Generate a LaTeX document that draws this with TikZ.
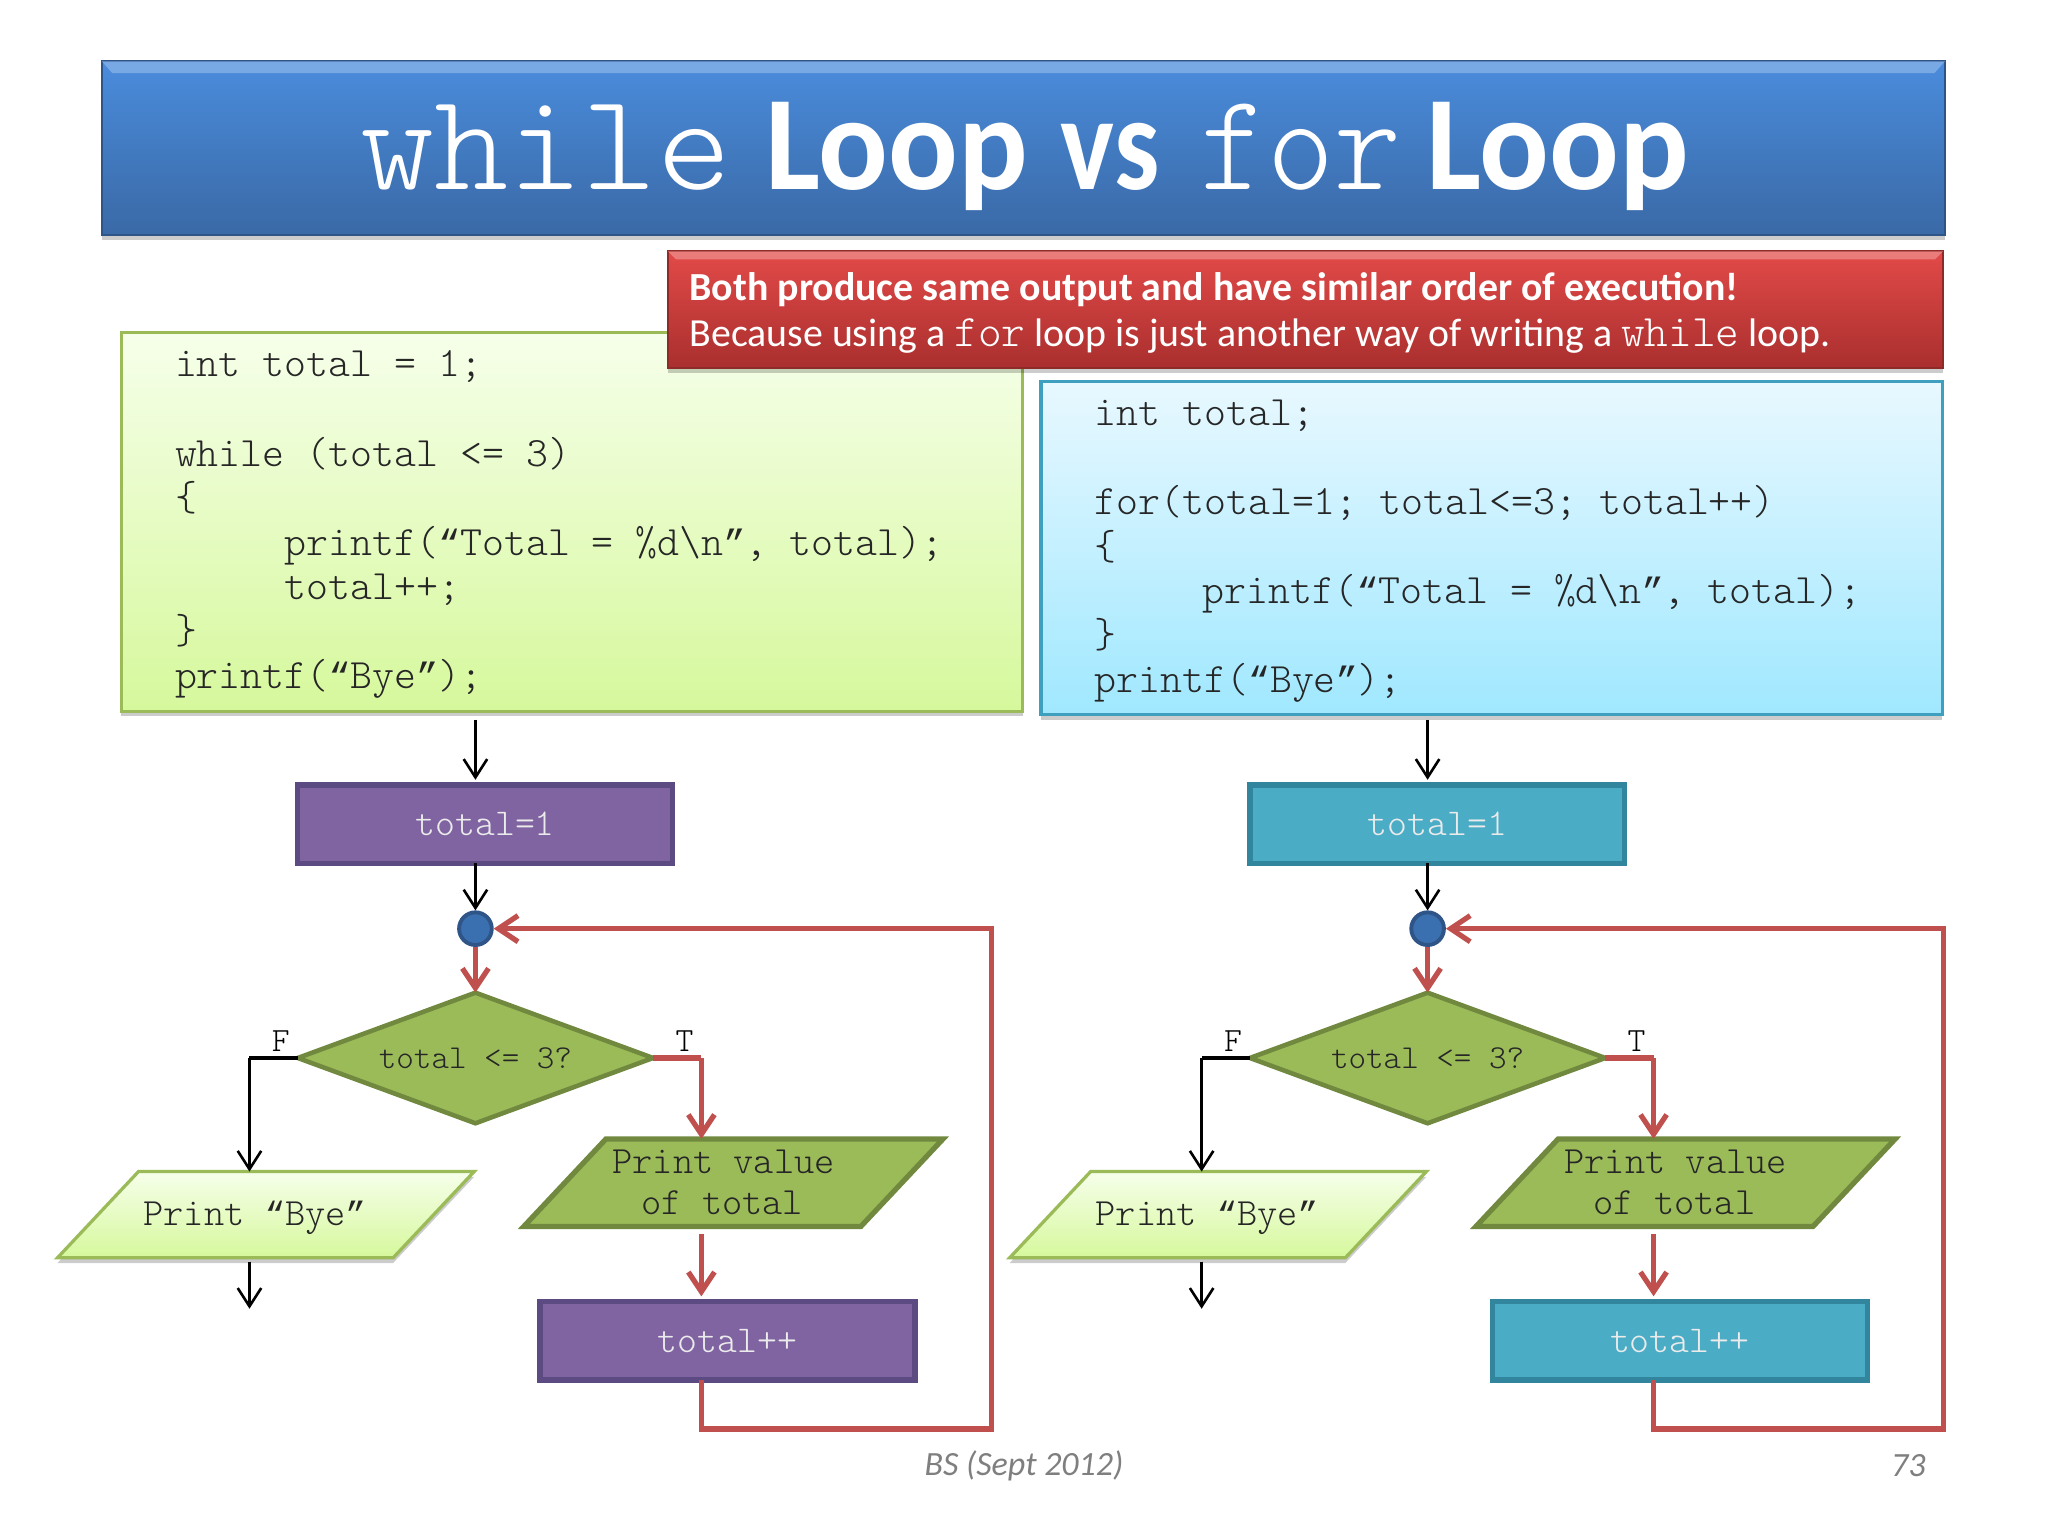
\documentclass[tikz,border=0pt]{standalone}
\usepackage{fontspec}
\usepackage{graphicx}
\setmainfont{Carlito}
\newfontfamily\lmt{Latin Modern Mono Light}
\newfontfamily\qfont{Liberation Mono}[Scale=0.875]
\newcommand{\qo}{{\qfont “}}
\newcommand{\qc}{{\qfont ”}}
\usetikzlibrary{shapes.geometric,arrows.meta,shadows,calc}
\definecolor{titleA}{HTML}{4A8CDC}
\definecolor{titleB}{HTML}{3A69A6}
\definecolor{titleE}{HTML}{2F5488}
\definecolor{redA}{HTML}{E24A48}
\definecolor{redB}{HTML}{A92F2E}
\definecolor{redE}{HTML}{8E2A28}
\definecolor{grnA}{HTML}{F6FFEA}
\definecolor{grnB}{HTML}{D6F89C}
\definecolor{grnE}{HTML}{9BBB59}
\definecolor{bluA}{HTML}{E8F8FF}
\definecolor{bluB}{HTML}{A0E8FF}
\definecolor{bluE}{HTML}{3F9FBF}
\definecolor{olive}{HTML}{9BBB59}
\definecolor{oliveE}{HTML}{71893F}
\definecolor{purp}{HTML}{8064A2}
\definecolor{purpE}{HTML}{5C4A82}
\definecolor{teal}{HTML}{4BACC6}
\definecolor{tealE}{HTML}{31859C}
\definecolor{loopred}{HTML}{C0504D}
\definecolor{codeink}{HTML}{262626}
\definecolor{foot}{HTML}{7F7F7F}
\tikzset{
  x=1pt,y=-1pt,
  softshadow/.style={drop shadow={shadow xshift=0pt,shadow yshift=-4pt,opacity=.2,fill=black}},
  banner/.style={rectangle,inner sep=0pt,outer sep=0pt,softshadow,line width=1.5pt},
  code/.style={anchor=base west,inner sep=0pt,outer sep=0pt,text=codeink,font=\lmt\fontsize{32}{34}\selectfont},
  ttl/.style={anchor=base west,inner sep=0pt,outer sep=0pt,text=white},
  sub/.style={anchor=base west,inner sep=0pt,outer sep=0pt,text=white},
  proc/.style={rectangle,draw=#1,line width=4pt,inner sep=0pt,outer sep=0pt,minimum width=287pt,minimum height=60pt,text=white!92!black,font=\lmt\fontsize{29}{31}\selectfont},
  para/.style={trapezium,trapezium left angle=46.8,trapezium right angle=133.2,trapezium stretches body,inner sep=0pt,outer sep=0pt},
  lbl/.style={inner sep=0pt,outer sep=0pt,text=codeink,font=\lmt\fontsize{29.5}{31}\selectfont},
  tf/.style={inner sep=0pt,outer sep=0pt,text=black,font=\lmt\fontsize{26}{28}\selectfont},
  blk/.style={draw=black,line width=2pt,-{Straight Barb[length=14pt,width=18pt,line width=2pt]}},
  blkline/.style={draw=black,line width=2.5pt},
  rd/.style={draw=loopred,line width=4pt,-{Straight Barb[length=15pt,width=20pt,line width=4pt]}},
  rdline/.style={draw=loopred,line width=4pt},
  footer/.style={inner sep=0pt,outer sep=0pt,text=foot,font=\itshape\fontsize{26}{28}\selectfont}
}
\newcommand{\flowpart}[2]{%
  \coordinate (start) at (364,551);
  \coordinate (colF) at (191,810);
  \coordinate (colT) at (537,810);
  \coordinate (byeEnd) at (191,1002);
  \coordinate (loopB) at (759,1094);
  \coordinate (loopT) at (759,711);
  \coordinate (colTb) at (537,1094);
  \node[proc=#2,fill=#1] (init) at (371.5,631) {total=1};
  \node[circle,fill=titleA!80!black,draw=titleE,line width=3pt,minimum size=25pt,inner sep=0pt,outer sep=1.5pt] (join) at (364,711) {};
  \node[diamond,aspect=2.72,fill=olive,draw=oliveE,line width=3.5pt,minimum width=272pt,minimum height=100pt,inner sep=0pt,outer sep=0pt,text=codeink,font=\lmt\fontsize{25.6}{27}\selectfont] (test) at (364,810) {total <= 3?};
  \node[tf] (labF) at (215,797) {F};
  \node[tf] (labT) at (524,797) {T};
  \node[para,minimum width=319pt,top color=grnA,bottom color=grnB,draw=grnE,line width=2.5pt,softshadow] (bye) at (203.5,930) {\rule{0pt}{66pt}};
  \node[lbl] (byeT) at (195,932.5) {Print \qo Bye\qc};
  \node[para,minimum width=321pt,fill=olive,draw=oliveE,line width=4pt] (pv) at (561.5,905.5) {\rule{0pt}{67pt}};
  \node[lbl] (pvA) at (554,889.5) {Print value};
  \node[lbl] (pvB) at (553,921) {of total};
  \node[proc=#2,fill=#1] (inc) at (557,1026.5) {total++};
  \draw[blk,shorten >=4pt] (start) -- (join.north |- init.north);
  \draw[blk] (join.north |- init.south) -- (join.north);
  \draw[blkline] (test.west) -- (colF);
  \draw[blk] (colF) -- (colF |- bye.north);
  \draw[blk,shorten <=3pt] (colF |- bye.south) -- (byeEnd);
  \draw[rd] (join.south) -- (test.north);
  \draw[rdline] (test.east) -- (colT);
  \draw[rd] (colT) -- (colT |- pv.north);
  \draw[rd,shorten <=6pt,shorten >=4pt] (colT |- pv.south) -- (colT |- inc.north);
  \draw[rd] (colT |- inc.south) -- (colTb) -- (loopB) -- (loopT) -- (join.east);
}
\begin{document}
\begin{tikzpicture}
\useasboundingbox (0,0) rectangle (1568,1176);
\fill[white] (0,0) rectangle (1568,1176);
% title
\node[banner,draw=titleE,top color=titleA,bottom color=titleB,minimum width=1411pt,minimum height=133pt] (title) at (783.5,113.5) {};
\fill[titleA!65!white,opacity=.75] (title.north west) -- (title.north east) -- ++(-8,9) -- ($(title.north west)+(8pt,-9pt)$) -- cycle;
\node[ttl,font=\lmt\fontsize{106}{110}\selectfont] (t1) at (276,145) {\scalebox{1.02}[1]{while}};
\node[ttl,font=\bfseries\fontsize{103}{107}\selectfont] (t2) at (586,145) {\scalebox{.966}[1]{Loop}};
\node[ttl,font=\bfseries\fontsize{103}{107}\selectfont] (t3) at (812,145) {\scalebox{.846}[1]{vs}};
\node[ttl,font=\lmt\fontsize{106}{110}\selectfont] (t4) at (919,145) {\scalebox{.92}[1]{for}};
\node[ttl,font=\bfseries\fontsize{103}{107}\selectfont] (t5) at (1092,145) {\scalebox{.966}[1]{Loop}};
% code boxes
\node[banner,draw=grnE,top color=grnA,bottom color=grnB,line width=2.5pt,minimum width=690pt,minimum height=290pt] (gbox) at (438,399.5) {};
\node[banner,draw=bluE,top color=bluA,bottom color=bluB,line width=2.5pt,minimum width=690pt,minimum height=255pt] (bbox) at (1142,419.5) {};
% red note
\node[banner,draw=redE,top color=redA,bottom color=redB,minimum width=976pt,minimum height=89pt] (note) at (999.5,237) {};
\fill[redA!60!white,opacity=.7] (note.north west) -- (note.north east) -- ++(-6,6) -- ($(note.north west)+(6pt,-6pt)$) -- cycle;
\node[sub,font=\bfseries\fontsize{30.5}{32}\selectfont] (n1) at (528,230) {Both produce same output and have similar order of execution!};
\node[sub,font=\fontsize{30.5}{32}\selectfont] (n2) at (528,265.5) {Because using a {\lmt\fontsize{34.5}{32}\selectfont for} loop is just another way of writing a {\lmt\fontsize{34.5}{32}\selectfont while} loop.};
% left code
\node[code] (a1) at (134,288) {int total = 1;};
\node[code] (a2) at (134,357) {while (total <= 3)};
\node[code] (a3) at (134,391) {\{};
\node[code] (a4) at (218,425) {printf(\qo Total = \%d\textbackslash n\qc, total);};
\node[code] (a5) at (218,459) {total++;};
\node[code] (a6) at (134,493) {\}};
\node[code] (a7) at (134,527) {printf(\qo Bye\qc);};
% right code
\node[code] (b1) at (838,326) {int total;};
\node[code] (b2) at (838,394) {for(total=1; total<=3; total++)};
\node[code] (b3) at (838,428) {\{};
\node[code] (b4) at (921,462) {printf(\qo Total = \%d\textbackslash n\qc, total);};
\node[code] (b5) at (838,496) {\}};
\node[code] (b6) at (838,530) {printf(\qo Bye\qc);};
% flowcharts
\begin{scope}[name prefix=L-]
\flowpart{purp}{purpE}
\end{scope}
\begin{scope}[xshift=729pt,name prefix=R-]
\flowpart{teal}{tealE}
\end{scope}
% footer
\node[footer] (f1) at (784,1122) {BS (Sept 2012)};
\node[footer] (f2) at (1461,1122) {73};
\end{tikzpicture}
\end{document}
